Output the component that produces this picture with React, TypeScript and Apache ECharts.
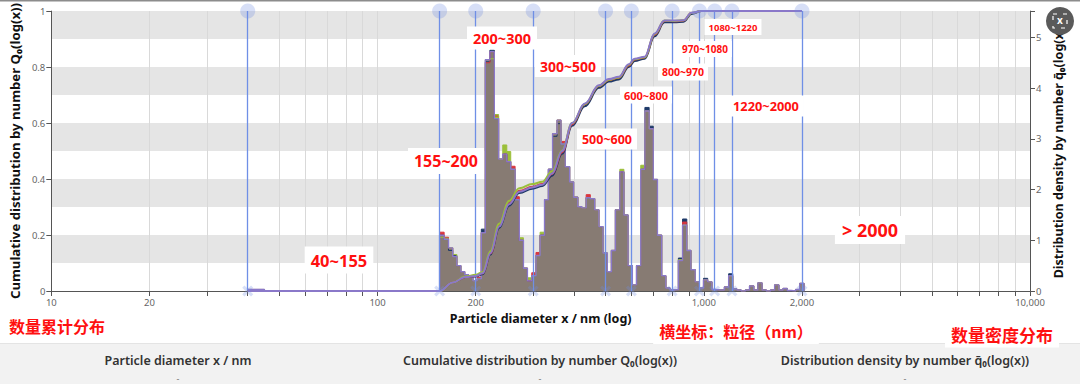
import React, { useEffect, useRef } from "react";
import * as echarts from "echarts";

// ---------- data ----------
const X_LABEL_VALUES = [10, 20, 100, 200, 1000, 2000, 10000];
const X_TICK_VALUES = [
  10, 20, 30, 40, 50, 60, 70, 80, 90, 100, 200, 300, 400, 500, 600, 700, 800, 900,
  1000, 2000, 3000, 4000, 5000, 6000, 7000, 8000, 9000, 10000,
];
const SEPARATORS_NM = [40, 155, 200, 300, 500, 600, 800, 970, 1080, 1220, 2000];

// histogram bin left edges (nm)
const HIST_EDGES_NM = [
  40, 45,
  155, 160, 165, 170, 175, 180, 185, 190, 196, 202,
  208, 214, 221, 228, 235, 242, 249, 256, 264, 272,
  280, 288, 297, 306, 315, 325, 334, 344, 355, 365,
  376, 388, 399, 411, 423, 436, 449, 463, 477, 491,
  506, 521, 536, 553, 569, 586, 604, 622, 641, 660,
  680, 700, 721, 743, 765, 788, 811, 836, 861, 887,
  913, 941, 969, 998, 1028, 1059, 1090, 1123, 1157, 1192,
  1227, 1264, 1302, 1341, 1381, 1423, 1465, 1509, 1555, 1601,
  1649, 1699, 1750, 1802, 1856, 1912, 1969, 2029,
];
const HIST_MAIN = [
  0.03, 0,
  1.1, 1.02, 0.85, 0.68, 0.5, 0.38, 0.32, 0.27, 0.2, 0.24,
  1.15, 4.56, 4.72, 3.4, 2.6, 2.7, 2.55, 2.4, 1.8, 1.0,
  0.45, 0.2, 0.3, 0.7, 1.1, 1.8, 2.4, 3.1, 3.37, 2.9,
  2.45, 2.15, 1.85, 1.66, 1.64, 1.84, 1.82, 1.6, 1.27, 0.75,
  0.38, 0.8, 1.6, 2.35, 1.5, 0.5, 0.12, 0.5, 2.4, 3.55,
  3.2, 2.2, 1.1, 0.3, 0.06, 0.02, 0.03, 0.6, 1.3, 0.8,
  0.42, 0.18, 0.06, 0.22, 0.18, 0.03, 0.02, 0.02, 0.08, 0.3,
  0.04, 0.02, 0, 0.02, 0.1, 0.02, 0.16, 0.02, 0, 0.02,
  0.12, 0.02, 0.05, 0.01, 0, 0.03, 0.15, 0,
];
const HIST_NAVY = [
  0.03, 0,
  1.1, 1.02, 0.8, 0.7, 0.5, 0.38, 0.32, 0.27, 0.2, 0.24,
  1.22, 4.52, 4.75, 3.4, 2.6, 2.7, 2.55, 2.4, 1.8, 1.0,
  0.45, 0.2, 0.3, 0.7, 1.1, 1.8, 2.4, 3.05, 3.3, 2.9,
  2.45, 2.15, 1.85, 1.66, 1.64, 1.84, 1.82, 1.6, 1.27, 0.75,
  0.38, 0.8, 1.6, 2.35, 1.5, 0.5, 0.12, 0.5, 2.4, 3.62,
  3.25, 2.2, 1.1, 0.3, 0.06, 0.02, 0.03, 0.65, 1.42, 0.8,
  0.42, 0.18, 0.06, 0.25, 0.18, 0.03, 0.02, 0.02, 0.08, 0.34,
  0.04, 0.02, 0, 0.02, 0.1, 0.02, 0.16, 0.02, 0, 0.02,
  0.12, 0.02, 0.05, 0.01, 0, 0.03, 0.15, 0,
];
const HIST_RED = [
  0.03, 0,
  1.16, 1.06, 0.85, 0.68, 0.5, 0.38, 0.32, 0.27, 0.2, 0.27,
  1.15, 4.5, 4.72, 3.45, 2.6, 2.7, 2.55, 2.46, 1.86, 1.0,
  0.45, 0.2, 0.36, 0.76, 1.1, 1.8, 2.4, 3.1, 3.37, 2.95,
  2.45, 2.15, 1.85, 1.66, 1.64, 1.9, 1.82, 1.6, 1.27, 0.75,
  0.38, 0.8, 1.6, 2.35, 1.5, 0.5, 0.12, 0.5, 2.4, 3.55,
  3.2, 2.2, 1.1, 0.3, 0.06, 0.02, 0.03, 0.6, 1.36, 0.8,
  0.42, 0.18, 0.06, 0.22, 0.18, 0.03, 0.02, 0.02, 0.08, 0.3,
  0.04, 0.02, 0, 0.02, 0.1, 0.02, 0.16, 0.02, 0, 0.02,
  0.12, 0.02, 0.05, 0.01, 0, 0.03, 0.15, 0,
];
const HIST_GREEN = [
  0.03, 0,
  1.06, 1.04, 0.85, 0.72, 0.5, 0.38, 0.32, 0.27, 0.2, 0.24,
  1.15, 4.56, 4.58, 3.48, 2.6, 2.88, 2.75, 2.4, 1.8, 1.05,
  0.45, 0.26, 0.3, 0.7, 1.16, 1.8, 2.4, 3.1, 3.37, 2.9,
  2.45, 2.15, 1.85, 1.66, 1.64, 1.84, 1.82, 1.6, 1.27, 0.75,
  0.38, 0.8, 1.6, 2.4, 1.5, 0.5, 0.12, 0.5, 2.48, 3.55,
  3.2, 2.2, 1.1, 0.3, 0.06, 0.02, 0.03, 0.62, 1.3, 0.8,
  0.42, 0.18, 0.06, 0.22, 0.18, 0.03, 0.02, 0.02, 0.08, 0.3,
  0.04, 0.02, 0, 0.02, 0.1, 0.02, 0.16, 0.02, 0, 0.02,
  0.12, 0.02, 0.05, 0.01, 0, 0.03, 0.15, 0,
];

// cumulative distribution points (nm, Q0)
const CUM_X_NM = [
  40, 155, 170, 186, 200, 210, 222, 236, 253, 272,
  298, 320, 343, 368, 395, 432, 477, 512, 549, 589,
  614, 659, 707, 758, 814, 867, 917, 983, 2000,
];
const CUM_MAIN = [
  0, 0, 0.03, 0.05, 0.054, 0.063, 0.135, 0.23, 0.31, 0.355,
  0.37, 0.38, 0.42, 0.5, 0.6, 0.67, 0.735, 0.757, 0.765, 0.81,
  0.83, 0.837, 0.92, 0.966, 0.966, 0.967, 0.994, 1.0, 1.0,
];
const CUM_NAVY = [
  0, 0, 0.03, 0.05, 0.052, 0.06, 0.13, 0.225, 0.305, 0.35,
  0.365, 0.375, 0.412, 0.49, 0.59, 0.66, 0.726, 0.748, 0.756, 0.8,
  0.822, 0.83, 0.91, 0.96, 0.96, 0.962, 0.99, 1.0, 1.0,
];
const CUM_RED = [
  0, 0, 0.03, 0.05, 0.054, 0.063, 0.135, 0.232, 0.312, 0.358,
  0.372, 0.382, 0.418, 0.496, 0.596, 0.667, 0.732, 0.754, 0.762, 0.806,
  0.827, 0.834, 0.916, 0.965, 0.964, 0.966, 0.993, 1.0, 1.0,
];
const CUM_GREEN = [
  0, 0, 0.03, 0.052, 0.058, 0.068, 0.142, 0.24, 0.322, 0.367,
  0.382, 0.39, 0.428, 0.502, 0.6, 0.668, 0.733, 0.755, 0.763, 0.808,
  0.828, 0.835, 0.918, 0.966, 0.965, 0.967, 0.993, 1.0, 1.0,
];

const RANGE_LABELS = [
  "40~155", "155~200", "200~300", "300~500", "500~600", "600~800",
  "800~970", "970~1080", "1080~1220", "1220~2000", "> 2000",
];
const NOTE_LABELS = ["数量累计分布", "横坐标：粒径（nm）", "数量密度分布"];
const TABLE_HEADERS = [
  "Particle diameter x / nm",
  "Cumulative distribution by number Q₀(log(x))",
  "Distribution density by number q̄₀(log(x))",
];
const TABLE_ROW = ["-", "-", "-"];

const X_NAME = "Particle diameter x / nm (log)";
const Y_LEFT_NAME = "Cumulative distribution by number Q₀(log(x))";
const Y_RIGHT_NAME = "Distribution density by number q̄₀(log(x))";

// ---------- layout / style ----------
const FONT = '"Noto Sans", "Open Sans", sans-serif';
const CJK = '"Noto Sans CJK SC", "Noto Sans", sans-serif';
const RANGE_LAYOUT: [number, number, number][] = [
  [339, 260, 16.5], [446, 161, 16], [502, 38, 14.5], [568, 66, 14], [607, 139, 12.5],
  [646, 95, 11], [683, 72, 10.5], [705, 49, 10], [733, 27, 9.5], [766, 106, 12.8], [870, 230, 18],
];
const NOTE_LAYOUT: [number, number, number, boolean][] = [
  [57, 326, 16, false], [736, 331, 16, true], [1002, 334, 17, true],
];
const TABLE_X = [178, 540, 905];
const X_MARK = "path://M2,0 L5,3 L8,0 L10,2 L7,5 L10,8 L8,10 L5,7 L2,10 L0,8 L3,5 L0,2 Z";

const pairs = (xs: number[], ys: number[]) => xs.map((x, i) => [x, ys[i]]);

function histSeries(name: string, vals: number[], line: string, fill: string, w: number) {
  return {
    name,
    type: "line",
    yAxisIndex: 1,
    step: "end",
    symbol: "none",
    data: pairs(HIST_EDGES_NM, vals),
    lineStyle: { color: line, width: w },
    itemStyle: { color: line },
    areaStyle: { color: fill, opacity: 1 },
    z: 2,
  };
}
function cumSeries(name: string, vals: number[], color: string, z: number) {
  return {
    name,
    type: "line",
    yAxisIndex: 0,
    smooth: 0.4,
    smoothMonotone: "x",
    symbol: "none",
    data: pairs(CUM_X_NM, vals),
    lineStyle: { color, width: 2 },
    itemStyle: { color },
    z,
  };
}

function buildOption() {
  const axisLineStyle = { color: "#555", width: 1 };
  const graphics: any[] = [];
  graphics.push({ type: "rect", shape: { x: 0, y: 0, width: 1080, height: 1.5 }, style: { fill: "#8c8c8c" }, z: 50 });
  graphics.push({ type: "rect", shape: { x: 0, y: 343, width: 1080, height: 41 }, style: { fill: "#f2f2f2" }, z: 50 });
  graphics.push({ type: "rect", shape: { x: 0, y: 343, width: 1080, height: 1 }, style: { fill: "#e4e4e4" }, z: 50 });
  TABLE_HEADERS.forEach((t, i) => {
    graphics.push({
      type: "text", z: 51,
      style: { text: t, x: TABLE_X[i], y: 360, align: "center", verticalAlign: "middle", font: `600 12.5px ${FONT}`, fill: "#333" },
    });
    graphics.push({
      type: "text", z: 51,
      style: { text: TABLE_ROW[i], x: TABLE_X[i], y: 378, align: "center", verticalAlign: "middle", font: `9px ${FONT}`, fill: "#777" },
    });
  });
  RANGE_LABELS.forEach((t, i) => {
    const [x, y, fs] = RANGE_LAYOUT[i];
    graphics.push({
      type: "text", z: 60,
      style: {
        text: t, x, y, align: "center", verticalAlign: "middle",
        font: `bold ${fs}px ${FONT}`, fill: "#ff1010",
        backgroundColor: "#ffffff", padding: [Math.round(fs * 0.3), Math.round(fs * 0.38)],
      },
    });
  });
  NOTE_LABELS.forEach((t, i) => {
    const [x, y, fs, bg] = NOTE_LAYOUT[i];
    graphics.push({
      type: "text", z: 60,
      style: {
        text: t, x, y, align: "center", verticalAlign: "middle",
        font: `bold ${fs}px ${CJK}`, fill: "#ff1010",
        backgroundColor: bg ? "#ffffff" : "transparent", padding: bg ? [5, 6] : 0,
      },
    });
  });
  // full-screen button
  graphics.push({ type: "circle", z: 70, shape: { cx: 1060, cy: 21, r: 14 }, style: { fill: "#5a5a5a" } });
  graphics.push({ type: "rect", z: 71, shape: { x: 1053, y: 14, width: 14, height: 14 }, style: { fill: "none", stroke: "#ffffff", lineWidth: 1.2, lineDash: [4, 6] } });
  graphics.push({ type: "text", z: 72, style: { text: "x", x: 1060, y: 20, align: "center", verticalAlign: "middle", font: `bold 10px ${FONT}`, fill: "#fff" } });

  return {
    animation: false,
    backgroundColor: "#ffffff",
    textStyle: { fontFamily: FONT },
    grid: { left: 47, right: 50, top: 11, bottom: 93 },
    xAxis: {
      type: "log",
      logBase: 10,
      min: 10,
      max: 10000,
      name: X_NAME,
      nameLocation: "middle",
      nameGap: 18,
      nameTextStyle: { fontWeight: "bold", fontSize: 12.5, color: "#111", fontFamily: FONT },
      axisLine: { show: true, onZero: false, lineStyle: axisLineStyle },
      axisTick: { show: true, customValues: X_TICK_VALUES, length: 5, lineStyle: axisLineStyle },
      axisLabel: {
        customValues: X_LABEL_VALUES,
        formatter: (v: number) => Number(v).toLocaleString("en-US"),
        fontSize: 9.5,
        color: "#666",
        margin: 6,
      },
      splitLine: { show: true, lineStyle: { color: "#d9d9d9", width: 1 } },
    },
    yAxis: [
      {
        type: "value",
        position: "left",
        min: 0,
        max: 1,
        interval: 0.2,
        name: Y_LEFT_NAME,
        nameLocation: "middle",
        nameGap: 21,
        nameTextStyle: { fontWeight: "bold", fontSize: 13.2, color: "#111", fontFamily: FONT },
        axisLine: { show: true, lineStyle: axisLineStyle },
        axisTick: { show: true, length: 5, lineStyle: axisLineStyle },
        axisLabel: { fontSize: 9.5, color: "#666", margin: 6 },
        splitLine: { show: false },
      },
      {
        type: "value",
        position: "right",
        min: 0,
        max: 5.52,
        interval: 1,
        name: Y_RIGHT_NAME,
        nameLocation: "middle",
        nameGap: 20,
        nameTextStyle: { fontWeight: "bold", fontSize: 12.5, color: "#111", fontFamily: FONT },
        axisLine: { show: true, lineStyle: axisLineStyle },
        axisTick: { show: true, length: 5, lineStyle: axisLineStyle },
        axisLabel: {
          fontSize: 9.5, color: "#666", margin: 6,
          formatter: (v: number) => (Math.abs(v - Math.round(v)) < 1e-9 ? String(Math.round(v)) : ""),
        },
        splitLine: { show: false },
      },
      {
        type: "value",
        position: "left",
        min: 0,
        max: 1,
        interval: 0.1,
        axisLine: { show: false },
        axisTick: { show: false },
        axisLabel: { show: false },
        splitLine: { show: false },
        splitArea: { show: true, areaStyle: { color: ["rgba(0,0,0,0)", "rgba(0,0,0,0.1)"] } },
      },
    ],
    series: [
      histSeries("navy-hist", HIST_NAVY, "#1f3a68", "#1f3a68", 1),
      histSeries("red-hist", HIST_RED, "#d9363e", "#d9363e", 1),
      histSeries("green-hist", HIST_GREEN, "#9bbf3a", "#9bbf3a", 1),
      histSeries("main-hist", HIST_MAIN, "#8a78c9", "#877b73", 1.4),
      cumSeries("navy-cum", CUM_NAVY, "#1f3a68", 5),
      cumSeries("red-cum", CUM_RED, "#d9363e", 6),
      cumSeries("green-cum", CUM_GREEN, "#9bbf3a", 7),
      cumSeries("main-cum", CUM_MAIN, "#8a78c9", 8),
      {
        name: "separators-top",
        type: "scatter",
        yAxisIndex: 0,
        clip: false,
        symbol: "circle",
        symbolSize: 15,
        data: SEPARATORS_NM.map((v) => [v, 1]),
        itemStyle: { color: "rgba(110,140,225,0.35)" },
        z: 20,
        markLine: {
          silent: true,
          symbol: "none",
          animation: false,
          label: { show: false },
          lineStyle: { color: "#6f8fe6", width: 1.3, type: "solid" },
          data: SEPARATORS_NM.map((v) => ({ xAxis: v })),
        },
      },
      {
        name: "separators-bottom",
        type: "scatter",
        yAxisIndex: 0,
        clip: false,
        symbol: X_MARK,
        symbolSize: 11,
        data: SEPARATORS_NM.map((v) => [v, 0]),
        itemStyle: { color: "rgba(110,140,225,0.35)" },
        z: 20,
      },
    ],
    graphic: graphics,
  };
}

export default function App() {
  const ref = useRef<HTMLDivElement>(null);
  useEffect(() => {
    if (!ref.current) return;
    const chart = echarts.init(ref.current, null, { renderer: "svg" });
    chart.setOption(buildOption() as any);
    return () => chart.dispose();
  }, []);
  return (
    <div
      ref={ref}
      style={{ position: "absolute", left: 0, top: 0, width: 1080, height: 384, background: "#fff" }}
    />
  );
}
